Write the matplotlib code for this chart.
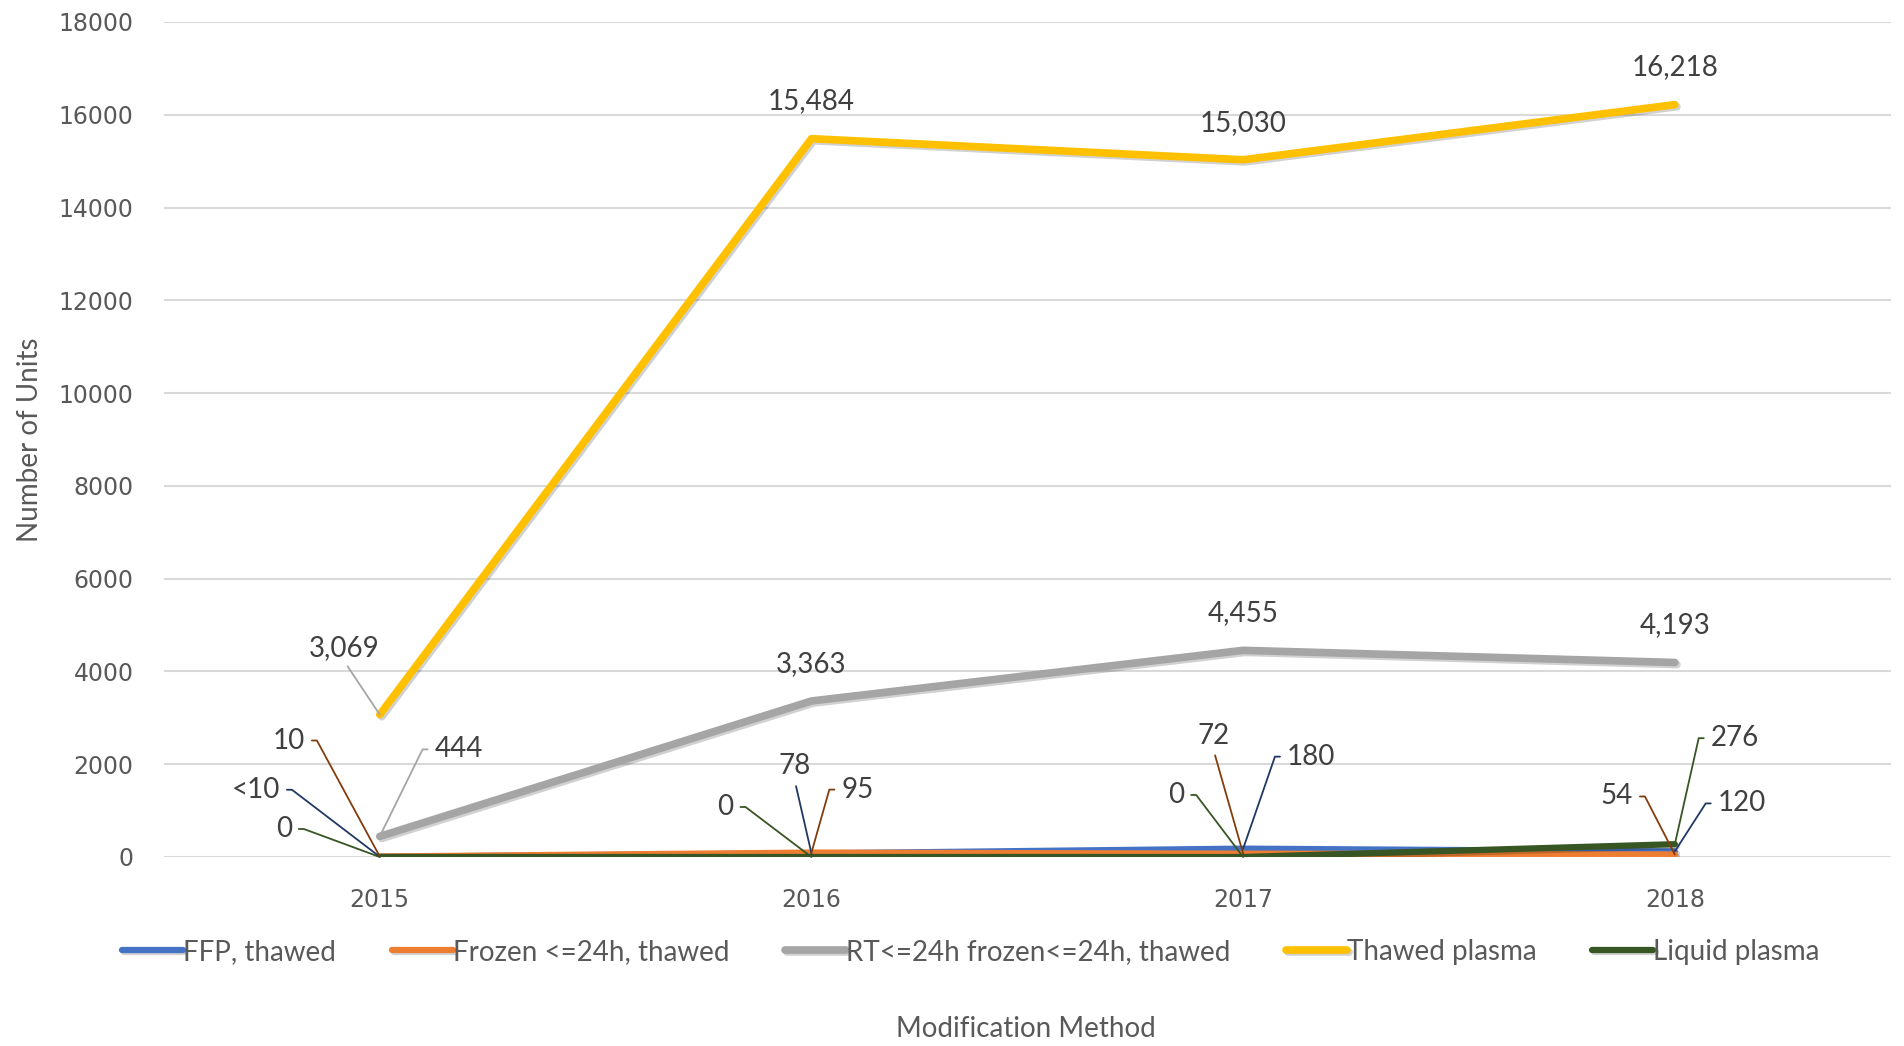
import matplotlib
matplotlib.use("Agg")
import matplotlib.pyplot as plt
import matplotlib.patheffects as pe

# Plasma units by modification method, 2015-2018
years = ["2015", "2016", "2017", "2018"]
series_names = ["FFP, thawed", "Frozen <=24h, thawed", "RT<=24h frozen<=24h, thawed",
                "Thawed plasma", "Liquid plasma"]
ffp_thawed = [5, 78, 180, 120]
frozen_24h = [10, 95, 72, 54]
rt_frozen_24h = [444, 3363, 4455, 4193]
thawed_plasma = [3069, 15484, 15030, 16218]
liquid_plasma = [0, 0, 0, 276]
# 2015 FFP count is suppressed in the source (<10)
ffp_labels = ["<10", "78", "180", "120"]

yticks = [0, 2000, 4000, 6000, 8000, 10000, 12000, 14000, 16000, 18000]

line_colors = ["#4472C4", "#ED7D31", "#A5A5A5", "#FFC000", "#375623"]
leader_colors = ["#203864", "#843C0C", "#A5A5A5", "#A5A5A5", "#375623"]
widths = [4.5, 4.5, 5.5, 5.5, 4.5]

# label placement per series/year: (dx, dy) in pixels from the point, and leader type
# leader: None = no line, "L" = stub on the right of a left label, "R" = stub on the left,
# "S" = straight line from under the label
placements = {
    0: [(-124, 67, "L"), (-17, 87, "S"), (68, 92, "R"), (67, 48, "R")],
    1: [(-91, 116, "L"), (46, 63, "R"), (-30, 118, "S"), (-58, 58, "L")],
    2: [(79, 87, "R"), (0, 37, None), (0, 37, None), (0, 37, None)],
    3: [(-36, 67, "S"), (0, 38, None), (0, 37, None), (0, 38, None)],
    4: [(-96, 28, "L"), (-86, 50, "L"), (-67, 62, "L"), (60, 106, "R")],
}

all_values = [ffp_thawed, frozen_24h, rt_frozen_24h, thawed_plasma, liquid_plasma]
all_labels = [ffp_labels] + [[f"{v:,}" for v in vals] for vals in all_values[1:]]

fig = plt.figure(figsize=(19.04, 10.46), dpi=100)
ax = fig.add_axes([0.0861, 0.1807, 0.9069, 0.7983])

x = list(range(len(years)))
for i, vals in enumerate(all_values):
    ax.plot(x, vals, color=line_colors[i], lw=widths[i], label=series_names[i],
            solid_capstyle="round", solid_joinstyle="round", zorder=3 + i,
            path_effects=[pe.SimpleLineShadow(offset=(1.5, -1.5), alpha=0.18),
                          pe.Normal()])

for i, vals in enumerate(all_values):
    for j, v in enumerate(vals):
        dx, dy, kind = placements[i][j]
        kw = dict(xy=(j, v), xytext=(dx, dy), textcoords="offset pixels",
                  ha="center", va="center", fontsize=20, color="#404040",
                  family="Lato", zorder=10)
        if kind is None:
            ax.annotate(all_labels[i][j], **kw)
            continue
        if kind == "L":
            relpos, conn = (1.0, 0.5), "arc,angleA=0,armA=12,angleB=0,armB=0,rad=0"
        elif kind == "R":
            relpos, conn = (0.0, 0.5), "arc,angleA=180,armA=12,angleB=0,armB=0,rad=0"
        else:
            relpos, conn = (0.5, 0.0), "arc3,rad=0"
        ax.annotate(all_labels[i][j], arrowprops=dict(
            arrowstyle="-", color=leader_colors[i], lw=1.3, relpos=relpos,
            connectionstyle=conn, shrinkA=5, shrinkB=0, patchA=None), **kw)

ax.set_xlim(-0.5, 3.5)
ax.set_ylim(0, 18000)
ax.set_xticks(x)
ax.set_xticklabels(years)
ax.set_yticks(yticks)
ax.tick_params(axis="both", length=0, labelsize=17, labelcolor="#595959")
ax.tick_params(axis="x", pad=22)
ax.tick_params(axis="y", pad=22)
for lab in ax.get_xticklabels() + ax.get_yticklabels():
    lab.set_family("DejaVu Sans")
ax.grid(axis="y", color="#D9D9D9", lw=1.5)
ax.set_axisbelow(True)
for s in ax.spines.values():
    s.set_visible(False)

ax.set_ylabel("Number of Units", fontsize=20, color="#595959", family="Lato")
ax.yaxis.set_label_coords(-0.07, 0.5)

fig.legend(loc="center", bbox_to_anchor=(0.51, 0.09), ncol=5, frameon=False,
           handlelength=2.2, handletextpad=0.0, columnspacing=2.0,
           prop={"family": "Lato", "size": 20}, labelcolor="#595959")
fig.text(0.539, 0.016, "Modification Method", ha="center", va="center",
         fontsize=20, color="#595959", family="Lato")

fig.savefig("out.png", dpi=100)
